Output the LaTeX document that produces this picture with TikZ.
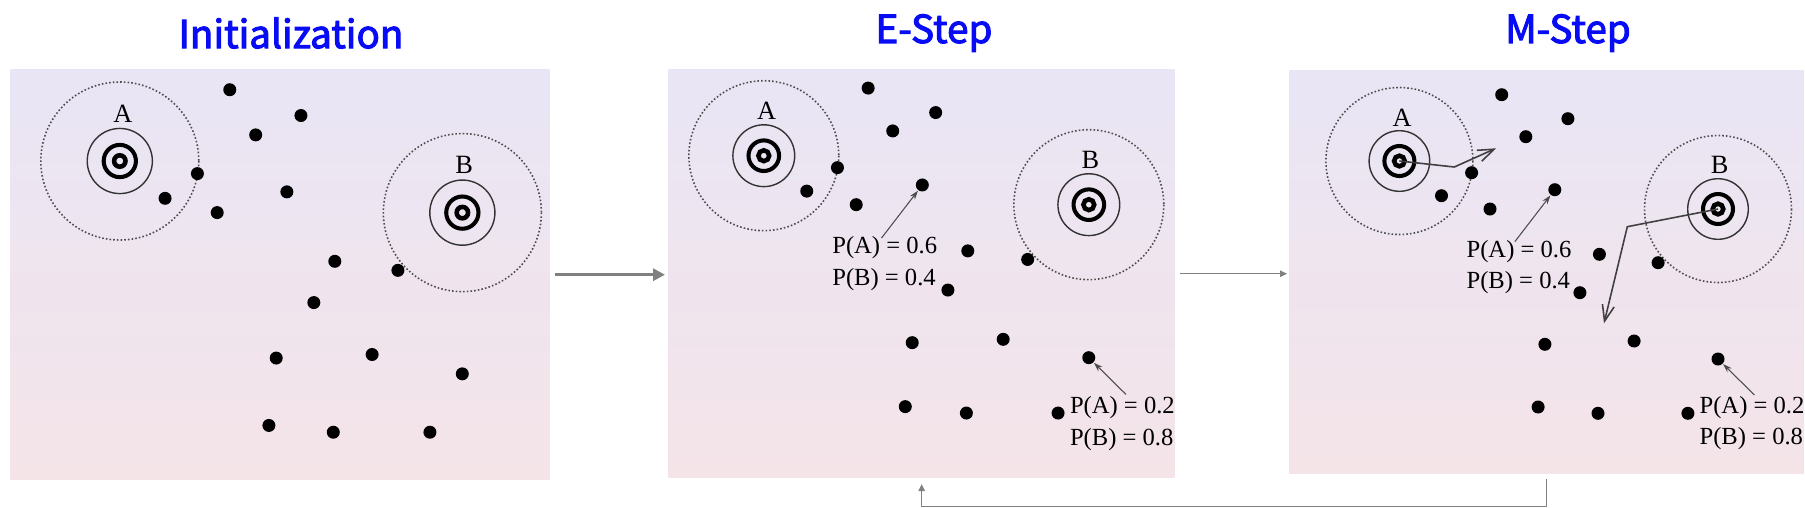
\documentclass[tikz,border=0pt]{standalone}
\usepackage{fontspec}
\setmainfont{Liberation Serif}
\newfontfamily\headfont{Noto Sans CJK SC}[FakeBold=2.6]
\usepackage{tikz}
\usetikzlibrary{arrows.meta}
\definecolor{headblue}{RGB}{8,12,245}
\definecolor{bgtop}{RGB}{233,229,245}
\definecolor{bgbot}{RGB}{244,228,232}
\definecolor{flowgray}{RGB}{128,128,128}

%% one cluster scene: two centres, their zones and the data points
\newcommand{\emscene}[1]{%
  \coordinate (#1a) at (0,0);
  \coordinate (#1b) at (318.6,48);
  \draw[zone] (#1a) circle[radius=73.5];
  \draw[zone] (#1b) circle[radius=73.5];
  \draw[ring] (#1a) circle[radius=30.3];
  \draw[ring] (#1b) circle[radius=30.3];
  \draw[line width=1.15pt] (#1a) circle[radius=15];
  \draw[line width=1.15pt] (#1b) circle[radius=15];
  \draw[line width=1.3pt] (#1a) circle[radius=5.3];
  \draw[line width=1.3pt] (#1b) circle[radius=5.3];
  \node[lbl] (#1la) at (2.8,-43.7) {A};
  \node[lbl] (#1lb) at (320.3,4) {B};
  \foreach \n/\x/\y in {1/102.3/-66.3, 2/168.5/-42.3, 3/126.4/-24.3,
      4/72.2/11.7, 5/42.1/34.7, 6/90.6/48, 7/155.4/28.7, 8/200/93.3,
      9/258.7/101.7, 10/180.5/131.7, 11/145.5/183.3, 12/234.7/180,
      13/318.6/198, 14/138.7/246, 15/198.6/252.3, 16/288.5/252.3}
    \node[pt] (#1p\n) at (\x,\y) {};
}
%% membership probabilities of two points
\newcommand{\problabels}[1]{%
  \node[prob] (#1pa6) at (66.5,96.3)  {P(A) = 0.6};
  \node[prob] (#1pb4) at (66.5,127.3) {P(B) = 0.4};
  \coordinate (#1s6) at (115.4,80.7);
  \draw[parr] (#1s6) -- (#1p7);
  \node[prob] (#1pa2) at (299.5,252.7) {P(A) = 0.2};
  \node[prob] (#1pb8) at (299.5,283.7) {P(B) = 0.8};
  \coordinate (#1s13) at (355,234);
  \draw[parr] (#1s13) -- (#1p13);
}

\begin{document}
\begin{tikzpicture}[
  x=0.1mm, y=-0.1mm,
  panel/.style={rectangle, inner sep=0, anchor=north west,
                top color=bgtop, bottom color=bgbot, draw=none},
  title/.style={font=\headfont\fontsize{11}{13}\selectfont,
                text=headblue, inner sep=0},
  zone/.style={black!70, line width=0.45pt, dash pattern=on 0.45pt off 0.6pt},
  ring/.style={black!80, line width=0.4pt},
  pt/.style={circle, fill=black, inner sep=0, minimum size=1.3mm},
  lbl/.style={font=\fontsize{7.5}{9}\selectfont, inner sep=0},
  prob/.style={anchor=base west, inner sep=0, font=\fontsize{7}{8.5}\selectfont},
  parr/.style={black!70, line width=0.3pt, -{Stealth[length=0.9mm,width=0.6mm]}},
  marr/.style={black!75, line width=0.45pt, -{Straight Barb[length=1.6mm,width=1.2mm]}},
  flow/.style={flowgray, line width=1pt, -{Triangle[length=1.2mm,width=1.2mm]}},
  flowthin/.style={flowgray, line width=0.35pt, -{Triangle[length=0.7mm,width=0.65mm]}}
]
\useasboundingbox (0,0) rectangle (1805,507);

\node[panel, minimum width=53.9mm, minimum height=41mm]   (init)  at (10,69)   {};
\node[panel, minimum width=50.6mm, minimum height=40.8mm] (estep) at (668,69)  {};
\node[panel, minimum width=51.4mm, minimum height=40.3mm] (mstep) at (1289,70) {};

\node[title] (tinit) at (291,33)  {Initialization};
\node[title] (test)  at (934,33)  {E-Step};
\node[title] (tmst)  at (1568,33) {M-Step};

\begin{scope}[shift={(119.8,161)}, scale=1.075]
  \emscene{i}
\end{scope}

\begin{scope}[shift={(763.8,155.7)}, scale=1.02]
  \emscene{e}
  \problabels{e}
\end{scope}

\begin{scope}[shift={(1399.4,161)}]
  \emscene{m}
  \problabels{m}
  %% centres move towards their weighted points
  \coordinate (mk1) at (54.9,6);
  \coordinate (mt1) at (96.6,-12.7);
  \coordinate (mk2) at (227.9,65.7);
  \coordinate (mt2) at (204.6,162.3);
  \draw[marr] (ma) -- (mk1) -- (mt1);
  \draw[marr] (mb) -- (mk2) -- (mt2);
\end{scope}

\draw[flow, shorten <=0.5mm, shorten >=0.3mm] (init.east) -- (init.east -| estep.west);
\draw[flowthin, shorten <=0.5mm, shorten >=0.2mm] (estep.east) -- (estep.east -| mstep.west);
\draw[flowthin, shorten <=0.5mm, shorten >=0.57mm] (mstep.south) -- ++(0,32) -| (estep.south);
\end{tikzpicture}
\end{document}
